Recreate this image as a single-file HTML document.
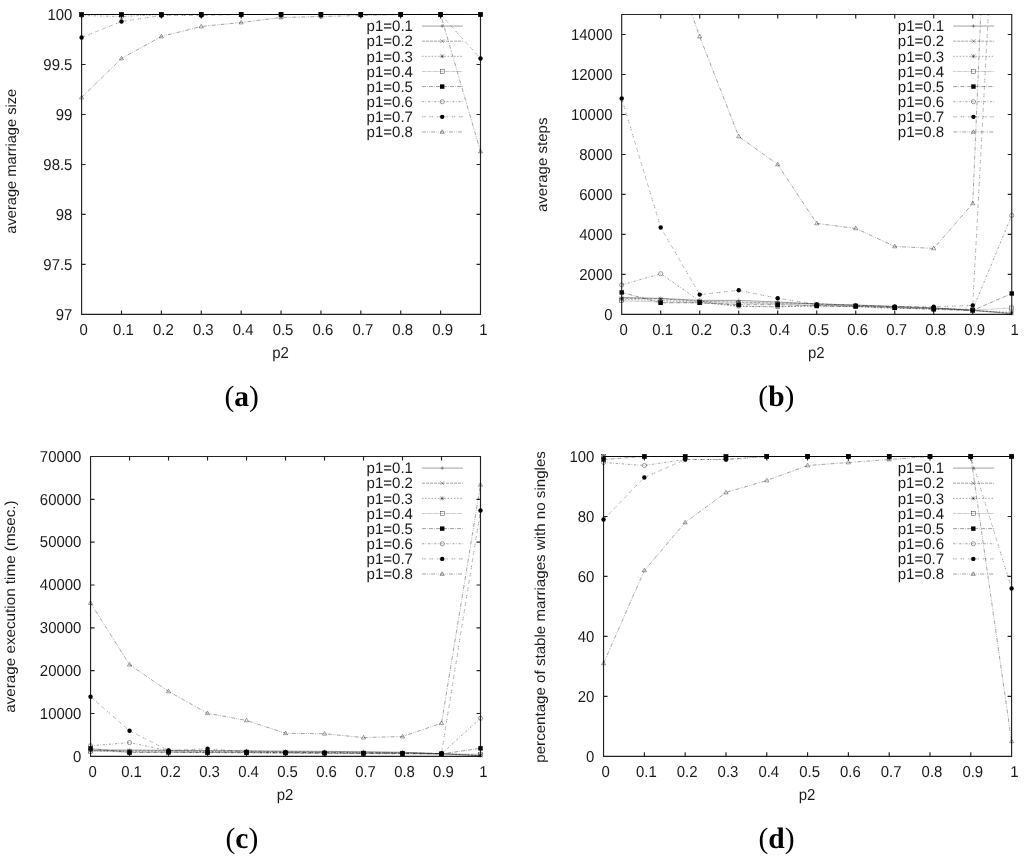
<!DOCTYPE html>
<html lang="en"><head><meta charset="utf-8"><title>Figure</title><style>html,body{margin:0;padding:0;background:#fff}svg{display:block}</style></head><body>
<svg width="1024" height="858" viewBox="0 0 1024 858" font-family="'Liberation Sans', sans-serif" fill="#1a1a1a" text-rendering="geometricPrecision">
<rect width="1024" height="858" fill="#fff"/>
<clipPath id="c1"><rect x="81.6" y="14" width="399.4" height="300.9"/></clipPath>
<path d="M81.6,14.5H480.5V314.4H81.6ZM121.49,314.4v-4M121.49,14.5v4M161.38,314.4v-4M161.38,14.5v4M201.27,314.4v-4M201.27,14.5v4M241.16,314.4v-4M241.16,14.5v4M281.05,314.4v-4M281.05,14.5v4M320.94,314.4v-4M320.94,14.5v4M360.83,314.4v-4M360.83,14.5v4M400.72,314.4v-4M400.72,14.5v4M440.61,314.4v-4M440.61,14.5v4M81.6,264.42h4M480.5,264.42h-4M81.6,214.43h4M480.5,214.43h-4M81.6,164.45h4M480.5,164.45h-4M81.6,114.47h4M480.5,114.47h-4M81.6,64.48h4M480.5,64.48h-4" stroke="#222" stroke-width="1.15" fill="none"/>
<g clip-path="url(#c1)" fill="none">
<polyline points="81.6,14.5 121.49,14.5 161.38,14.5 201.27,14.5 241.16,14.5 281.05,14.5 320.94,14.5 360.83,14.5 400.72,14.5 440.61,14.5 480.5,14.5" stroke="#000" stroke-width="0.38"/>
<polyline points="81.6,14.5 121.49,14.5 161.38,14.5 201.27,14.5 241.16,14.5 281.05,14.5 320.94,14.5 360.83,14.5 400.72,14.5 440.61,14.5 480.5,14.5" stroke="#000" stroke-width="0.36" stroke-dasharray="3,1"/>
<polyline points="81.6,14.5 121.49,14.5 161.38,14.5 201.27,14.5 241.16,14.5 281.05,14.5 320.94,14.5 360.83,14.5 400.72,14.5 440.61,14.5 480.5,14.5" stroke="#000" stroke-width="0.36" stroke-dasharray="1.5,1.7"/>
<polyline points="81.6,14.5 121.49,14.5 161.38,14.5 201.27,14.5 241.16,14.5 281.05,14.5 320.94,14.5 360.83,14.5 400.72,14.5 440.61,14.5 480.5,14.5" stroke="#000" stroke-width="0.36" stroke-dasharray="0.6,0.6"/>
<polyline points="81.6,14.5 121.49,14.5 161.38,14.5 201.27,14.5 241.16,14.5 281.05,14.5 320.94,14.5 360.83,14.5 400.72,14.5 440.61,14.5 480.5,14.5" stroke="#000" stroke-width="0.38" stroke-dasharray="4,1.2,0.6,1.2"/>
<polyline points="81.6,15.5 121.49,16.5 161.38,14.5 201.27,14.5 241.16,14.5 281.05,14.5 320.94,14.5 360.83,14.5 400.72,14.5 440.61,14.5 480.5,14.5" stroke="#000" stroke-width="0.36" stroke-dasharray="2.2,1.4,0.7,1.8"/>
<polyline points="81.6,37.49 121.49,21.5 161.38,15.5 201.27,15.5 241.16,14.5 281.05,14.5 320.94,14.5 360.83,14.5 400.72,14.5 440.61,14.5 480.5,58.49" stroke="#000" stroke-width="0.36" stroke-dasharray="1.5,0.7,1.5,3.7"/>
<polyline points="81.6,97.47 121.49,58.49 161.38,36.49 201.27,26.5 241.16,22.5 281.05,17.5 320.94,16.5 360.83,15.5 400.72,14.5 440.61,14.5 480.5,151.45" stroke="#000" stroke-width="0.36" stroke-dasharray="4,1.3,0.7,1,0.7,1.3"/>
</g>
<path d="M422,26.05H462.9" stroke="#000" stroke-width="0.38" fill="none"/>
<path d="M422,41.18H462.9" stroke="#000" stroke-width="0.36" stroke-dasharray="3,1" fill="none"/>
<path d="M422,56.31H462.9" stroke="#000" stroke-width="0.36" stroke-dasharray="1.5,1.7" fill="none"/>
<path d="M422,71.44H462.9" stroke="#000" stroke-width="0.36" stroke-dasharray="0.6,0.6" fill="none"/>
<path d="M422,86.57H462.9" stroke="#000" stroke-width="0.38" stroke-dasharray="4,1.2,0.6,1.2" fill="none"/>
<path d="M422,101.7H462.9" stroke="#000" stroke-width="0.36" stroke-dasharray="2.2,1.4,0.7,1.8" fill="none"/>
<path d="M422,116.83H462.9" stroke="#000" stroke-width="0.36" stroke-dasharray="1.5,0.7,1.5,3.7" fill="none"/>
<path d="M422,131.96H462.9" stroke="#000" stroke-width="0.36" stroke-dasharray="4,1.3,0.7,1,0.7,1.3" fill="none"/>
<path d="M79.9,14.5H83.3M81.6,12.6V16.4" stroke="#000" stroke-width="0.35" fill="none"/>
<path d="M119.79,14.5H123.19M121.49,12.6V16.4" stroke="#000" stroke-width="0.35" fill="none"/>
<path d="M159.68,14.5H163.08M161.38,12.6V16.4" stroke="#000" stroke-width="0.35" fill="none"/>
<path d="M199.57,14.5H202.97M201.27,12.6V16.4" stroke="#000" stroke-width="0.35" fill="none"/>
<path d="M239.46,14.5H242.86M241.16,12.6V16.4" stroke="#000" stroke-width="0.35" fill="none"/>
<path d="M279.35,14.5H282.75M281.05,12.6V16.4" stroke="#000" stroke-width="0.35" fill="none"/>
<path d="M319.24,14.5H322.64M320.94,12.6V16.4" stroke="#000" stroke-width="0.35" fill="none"/>
<path d="M359.13,14.5H362.53M360.83,12.6V16.4" stroke="#000" stroke-width="0.35" fill="none"/>
<path d="M399.02,14.5H402.42M400.72,12.6V16.4" stroke="#000" stroke-width="0.35" fill="none"/>
<path d="M438.91,14.5H442.31M440.61,12.6V16.4" stroke="#000" stroke-width="0.35" fill="none"/>
<path d="M478.8,14.5H482.2M480.5,12.6V16.4" stroke="#000" stroke-width="0.35" fill="none"/>
<path d="M440.5,26.05H443.9M442.2,24.15V27.95" stroke="#000" stroke-width="0.35" fill="none"/>
<path d="M79.6,12.5L83.6,16.5M79.6,16.5L83.6,12.5" stroke="#000" stroke-width="0.35" fill="none"/>
<path d="M119.49,12.5L123.49,16.5M119.49,16.5L123.49,12.5" stroke="#000" stroke-width="0.35" fill="none"/>
<path d="M159.38,12.5L163.38,16.5M159.38,16.5L163.38,12.5" stroke="#000" stroke-width="0.35" fill="none"/>
<path d="M199.27,12.5L203.27,16.5M199.27,16.5L203.27,12.5" stroke="#000" stroke-width="0.35" fill="none"/>
<path d="M239.16,12.5L243.16,16.5M239.16,16.5L243.16,12.5" stroke="#000" stroke-width="0.35" fill="none"/>
<path d="M279.05,12.5L283.05,16.5M279.05,16.5L283.05,12.5" stroke="#000" stroke-width="0.35" fill="none"/>
<path d="M318.94,12.5L322.94,16.5M318.94,16.5L322.94,12.5" stroke="#000" stroke-width="0.35" fill="none"/>
<path d="M358.83,12.5L362.83,16.5M358.83,16.5L362.83,12.5" stroke="#000" stroke-width="0.35" fill="none"/>
<path d="M398.72,12.5L402.72,16.5M398.72,16.5L402.72,12.5" stroke="#000" stroke-width="0.35" fill="none"/>
<path d="M438.61,12.5L442.61,16.5M438.61,16.5L442.61,12.5" stroke="#000" stroke-width="0.35" fill="none"/>
<path d="M478.5,12.5L482.5,16.5M478.5,16.5L482.5,12.5" stroke="#000" stroke-width="0.35" fill="none"/>
<path d="M440.2,39.18L444.2,43.18M440.2,43.18L444.2,39.18" stroke="#000" stroke-width="0.35" fill="none"/>
<path d="M79.6,12.5L83.6,16.5M79.6,16.5L83.6,12.5M79.6,14.5H83.6M81.6,12.5V16.5" stroke="#000" stroke-width="0.35" fill="none"/>
<path d="M119.49,12.5L123.49,16.5M119.49,16.5L123.49,12.5M119.49,14.5H123.49M121.49,12.5V16.5" stroke="#000" stroke-width="0.35" fill="none"/>
<path d="M159.38,12.5L163.38,16.5M159.38,16.5L163.38,12.5M159.38,14.5H163.38M161.38,12.5V16.5" stroke="#000" stroke-width="0.35" fill="none"/>
<path d="M199.27,12.5L203.27,16.5M199.27,16.5L203.27,12.5M199.27,14.5H203.27M201.27,12.5V16.5" stroke="#000" stroke-width="0.35" fill="none"/>
<path d="M239.16,12.5L243.16,16.5M239.16,16.5L243.16,12.5M239.16,14.5H243.16M241.16,12.5V16.5" stroke="#000" stroke-width="0.35" fill="none"/>
<path d="M279.05,12.5L283.05,16.5M279.05,16.5L283.05,12.5M279.05,14.5H283.05M281.05,12.5V16.5" stroke="#000" stroke-width="0.35" fill="none"/>
<path d="M318.94,12.5L322.94,16.5M318.94,16.5L322.94,12.5M318.94,14.5H322.94M320.94,12.5V16.5" stroke="#000" stroke-width="0.35" fill="none"/>
<path d="M358.83,12.5L362.83,16.5M358.83,16.5L362.83,12.5M358.83,14.5H362.83M360.83,12.5V16.5" stroke="#000" stroke-width="0.35" fill="none"/>
<path d="M398.72,12.5L402.72,16.5M398.72,16.5L402.72,12.5M398.72,14.5H402.72M400.72,12.5V16.5" stroke="#000" stroke-width="0.35" fill="none"/>
<path d="M438.61,12.5L442.61,16.5M438.61,16.5L442.61,12.5M438.61,14.5H442.61M440.61,12.5V16.5" stroke="#000" stroke-width="0.35" fill="none"/>
<path d="M478.5,12.5L482.5,16.5M478.5,16.5L482.5,12.5M478.5,14.5H482.5M480.5,12.5V16.5" stroke="#000" stroke-width="0.35" fill="none"/>
<path d="M440.2,54.31L444.2,58.31M440.2,58.31L444.2,54.31M440.2,56.31H444.2M442.2,54.31V58.31" stroke="#000" stroke-width="0.35" fill="none"/>
<rect x="79.6" y="12.5" width="4" height="4" stroke="#000" stroke-width="0.38" fill="none"/>
<rect x="119.49" y="12.5" width="4" height="4" stroke="#000" stroke-width="0.38" fill="none"/>
<rect x="159.38" y="12.5" width="4" height="4" stroke="#000" stroke-width="0.38" fill="none"/>
<rect x="199.27" y="12.5" width="4" height="4" stroke="#000" stroke-width="0.38" fill="none"/>
<rect x="239.16" y="12.5" width="4" height="4" stroke="#000" stroke-width="0.38" fill="none"/>
<rect x="279.05" y="12.5" width="4" height="4" stroke="#000" stroke-width="0.38" fill="none"/>
<rect x="318.94" y="12.5" width="4" height="4" stroke="#000" stroke-width="0.38" fill="none"/>
<rect x="358.83" y="12.5" width="4" height="4" stroke="#000" stroke-width="0.38" fill="none"/>
<rect x="398.72" y="12.5" width="4" height="4" stroke="#000" stroke-width="0.38" fill="none"/>
<rect x="438.61" y="12.5" width="4" height="4" stroke="#000" stroke-width="0.38" fill="none"/>
<rect x="478.5" y="12.5" width="4" height="4" stroke="#000" stroke-width="0.38" fill="none"/>
<rect x="440.2" y="69.44" width="4" height="4" stroke="#000" stroke-width="0.38" fill="none"/>
<rect x="79.4" y="12.3" width="4.4" height="4.4" fill="#000"/>
<rect x="119.29" y="12.3" width="4.4" height="4.4" fill="#000"/>
<rect x="159.18" y="12.3" width="4.4" height="4.4" fill="#000"/>
<rect x="199.07" y="12.3" width="4.4" height="4.4" fill="#000"/>
<rect x="238.96" y="12.3" width="4.4" height="4.4" fill="#000"/>
<rect x="278.85" y="12.3" width="4.4" height="4.4" fill="#000"/>
<rect x="318.74" y="12.3" width="4.4" height="4.4" fill="#000"/>
<rect x="358.63" y="12.3" width="4.4" height="4.4" fill="#000"/>
<rect x="398.52" y="12.3" width="4.4" height="4.4" fill="#000"/>
<rect x="438.41" y="12.3" width="4.4" height="4.4" fill="#000"/>
<rect x="478.3" y="12.3" width="4.4" height="4.4" fill="#000"/>
<rect x="440" y="84.37" width="4.4" height="4.4" fill="#000"/>
<circle cx="81.6" cy="15.5" r="2.1" stroke="#000" stroke-width="0.38" fill="none"/>
<circle cx="121.49" cy="16.5" r="2.1" stroke="#000" stroke-width="0.38" fill="none"/>
<circle cx="161.38" cy="14.5" r="2.1" stroke="#000" stroke-width="0.38" fill="none"/>
<circle cx="201.27" cy="14.5" r="2.1" stroke="#000" stroke-width="0.38" fill="none"/>
<circle cx="241.16" cy="14.5" r="2.1" stroke="#000" stroke-width="0.38" fill="none"/>
<circle cx="281.05" cy="14.5" r="2.1" stroke="#000" stroke-width="0.38" fill="none"/>
<circle cx="320.94" cy="14.5" r="2.1" stroke="#000" stroke-width="0.38" fill="none"/>
<circle cx="360.83" cy="14.5" r="2.1" stroke="#000" stroke-width="0.38" fill="none"/>
<circle cx="400.72" cy="14.5" r="2.1" stroke="#000" stroke-width="0.38" fill="none"/>
<circle cx="440.61" cy="14.5" r="2.1" stroke="#000" stroke-width="0.38" fill="none"/>
<circle cx="480.5" cy="14.5" r="2.1" stroke="#000" stroke-width="0.38" fill="none"/>
<circle cx="442.2" cy="101.7" r="2.1" stroke="#000" stroke-width="0.38" fill="none"/>
<circle cx="81.6" cy="37.49" r="2.2" fill="#000"/>
<circle cx="121.49" cy="21.5" r="2.2" fill="#000"/>
<circle cx="161.38" cy="15.5" r="2.2" fill="#000"/>
<circle cx="201.27" cy="15.5" r="2.2" fill="#000"/>
<circle cx="241.16" cy="14.5" r="2.2" fill="#000"/>
<circle cx="281.05" cy="14.5" r="2.2" fill="#000"/>
<circle cx="320.94" cy="14.5" r="2.2" fill="#000"/>
<circle cx="360.83" cy="14.5" r="2.2" fill="#000"/>
<circle cx="400.72" cy="14.5" r="2.2" fill="#000"/>
<circle cx="440.61" cy="14.5" r="2.2" fill="#000"/>
<circle cx="480.5" cy="58.49" r="2.2" fill="#000"/>
<circle cx="442.2" cy="116.83" r="2.2" fill="#000"/>
<path d="M81.6,95.27L83.7,98.87H79.5Z" stroke="#000" stroke-width="0.38" fill="none"/>
<path d="M121.49,56.29L123.59,59.89H119.39Z" stroke="#000" stroke-width="0.38" fill="none"/>
<path d="M161.38,34.29L163.48,37.89H159.28Z" stroke="#000" stroke-width="0.38" fill="none"/>
<path d="M201.27,24.3L203.37,27.9H199.17Z" stroke="#000" stroke-width="0.38" fill="none"/>
<path d="M241.16,20.3L243.26,23.9H239.06Z" stroke="#000" stroke-width="0.38" fill="none"/>
<path d="M281.05,15.3L283.15,18.9H278.95Z" stroke="#000" stroke-width="0.38" fill="none"/>
<path d="M320.94,14.3L323.04,17.9H318.84Z" stroke="#000" stroke-width="0.38" fill="none"/>
<path d="M360.83,13.3L362.93,16.9H358.73Z" stroke="#000" stroke-width="0.38" fill="none"/>
<path d="M400.72,12.3L402.82,15.9H398.62Z" stroke="#000" stroke-width="0.38" fill="none"/>
<path d="M440.61,12.3L442.71,15.9H438.51Z" stroke="#000" stroke-width="0.38" fill="none"/>
<path d="M480.5,149.25L482.6,152.85H478.4Z" stroke="#000" stroke-width="0.38" fill="none"/>
<path d="M442.2,129.76L444.3,133.36H440.1Z" stroke="#000" stroke-width="0.38" fill="none"/>
<text transform="translate(72.4,319.6) scale(0.945,1)" text-anchor="end" font-size="15.8">97</text>
<text transform="translate(72.4,269.62) scale(0.945,1)" text-anchor="end" font-size="15.8">97.5</text>
<text transform="translate(72.4,219.63) scale(0.945,1)" text-anchor="end" font-size="15.8">98</text>
<text transform="translate(72.4,169.65) scale(0.945,1)" text-anchor="end" font-size="15.8">98.5</text>
<text transform="translate(72.4,119.67) scale(0.945,1)" text-anchor="end" font-size="15.8">99</text>
<text transform="translate(72.4,69.68) scale(0.945,1)" text-anchor="end" font-size="15.8">99.5</text>
<text transform="translate(72.4,19.7) scale(0.945,1)" text-anchor="end" font-size="15.8">100</text>
<text transform="translate(83.6,334.6) scale(0.945,1)" text-anchor="middle" font-size="15.8">0</text>
<text transform="translate(123.49,334.6) scale(0.945,1)" text-anchor="middle" font-size="15.8">0.1</text>
<text transform="translate(163.38,334.6) scale(0.945,1)" text-anchor="middle" font-size="15.8">0.2</text>
<text transform="translate(203.27,334.6) scale(0.945,1)" text-anchor="middle" font-size="15.8">0.3</text>
<text transform="translate(243.16,334.6) scale(0.945,1)" text-anchor="middle" font-size="15.8">0.4</text>
<text transform="translate(283.05,334.6) scale(0.945,1)" text-anchor="middle" font-size="15.8">0.5</text>
<text transform="translate(322.94,334.6) scale(0.945,1)" text-anchor="middle" font-size="15.8">0.6</text>
<text transform="translate(362.83,334.6) scale(0.945,1)" text-anchor="middle" font-size="15.8">0.7</text>
<text transform="translate(402.72,334.6) scale(0.945,1)" text-anchor="middle" font-size="15.8">0.8</text>
<text transform="translate(442.61,334.6) scale(0.945,1)" text-anchor="middle" font-size="15.8">0.9</text>
<text transform="translate(483.3,334.6) scale(0.945,1)" text-anchor="middle" font-size="15.8">1</text>
<text transform="translate(280.55,358.2) scale(0.945,1)" text-anchor="middle" font-size="15.8">p2</text>
<text transform="translate(16,161.25) rotate(-90) scale(1.01,1)" text-anchor="middle" font-size="14.5">average marriage size</text>
<text transform="translate(413,31.25) scale(0.99,1)" text-anchor="end" font-size="15.2">p1=0.1</text>
<text transform="translate(413,46.38) scale(0.99,1)" text-anchor="end" font-size="15.2">p1=0.2</text>
<text transform="translate(413,61.51) scale(0.99,1)" text-anchor="end" font-size="15.2">p1=0.3</text>
<text transform="translate(413,76.64) scale(0.99,1)" text-anchor="end" font-size="15.2">p1=0.4</text>
<text transform="translate(413,91.77) scale(0.99,1)" text-anchor="end" font-size="15.2">p1=0.5</text>
<text transform="translate(413,106.9) scale(0.99,1)" text-anchor="end" font-size="15.2">p1=0.6</text>
<text transform="translate(413,122.03) scale(0.99,1)" text-anchor="end" font-size="15.2">p1=0.7</text>
<text transform="translate(413,137.16) scale(0.99,1)" text-anchor="end" font-size="15.2">p1=0.8</text>
<text x="241.7" y="405.8" text-anchor="middle" font-family="'Liberation Serif', serif" font-size="29.5" fill="#000">(<tspan font-weight="bold">a</tspan>)</text>
<clipPath id="c2"><rect x="621.7" y="14" width="390.55" height="300.9"/></clipPath>
<path d="M621.7,14.5H1011.75V314.4H621.7ZM660.71,314.4v-4M660.71,14.5v4M699.71,314.4v-4M699.71,14.5v4M738.72,314.4v-4M738.72,14.5v4M777.72,314.4v-4M777.72,14.5v4M816.73,314.4v-4M816.73,14.5v4M855.73,314.4v-4M855.73,14.5v4M894.74,314.4v-4M894.74,14.5v4M933.74,314.4v-4M933.74,14.5v4M972.75,314.4v-4M972.75,14.5v4M621.7,274.41h4M1011.75,274.41h-4M621.7,234.43h4M1011.75,234.43h-4M621.7,194.44h4M1011.75,194.44h-4M621.7,154.45h4M1011.75,154.45h-4M621.7,114.47h4M1011.75,114.47h-4M621.7,74.48h4M1011.75,74.48h-4M621.7,34.49h4M1011.75,34.49h-4" stroke="#222" stroke-width="1.15" fill="none"/>
<g clip-path="url(#c2)" fill="none">
<polyline points="621.7,297.41 660.71,298.41 699.71,300.4 738.72,300.4 777.72,302 816.73,304 855.73,305 894.74,306.4 933.74,307.8 972.75,310.4 1011.75,313.8" stroke="#000" stroke-width="0.38"/>
<polyline points="621.7,298.41 660.71,298.81 699.71,301.4 738.72,302 777.72,303.2 816.73,303.6 855.73,305.4 894.74,306.8 933.74,308.4 972.75,310.2 1011.75,313.2" stroke="#000" stroke-width="0.36" stroke-dasharray="3,1"/>
<polyline points="621.7,299.4 660.71,300.4 699.71,302.4 738.72,306.4 777.72,306.8 816.73,306 855.73,306.8 894.74,308.4 933.74,308.8 972.75,310.6 1011.75,312.4" stroke="#000" stroke-width="0.36" stroke-dasharray="1.5,1.7"/>
<polyline points="621.7,300.8 660.71,302 699.71,302.8 738.72,303.2 777.72,304 816.73,305 855.73,306 894.74,307.4 933.74,308.4 972.75,310 1011.75,308" stroke="#000" stroke-width="0.36" stroke-dasharray="0.6,0.6"/>
<polyline points="621.7,292.41 660.71,302.8 699.71,302.8 738.72,304.7 777.72,304.7 816.73,306 855.73,306.4 894.74,307.8 933.74,309.4 972.75,310.4 1011.75,293.51" stroke="#000" stroke-width="0.38" stroke-dasharray="4,1.2,0.6,1.2"/>
<polyline points="621.7,284.91 660.71,273.71 699.71,301 738.72,306 777.72,306.9 816.73,305.4 855.73,306.4 894.74,307.4 933.74,308.4 972.75,309.4 1011.75,215.43" stroke="#000" stroke-width="0.36" stroke-dasharray="2.2,1.4,0.7,1.8"/>
<polyline points="621.7,98.47 660.71,227.43 699.71,294.61 738.72,290.31 777.72,298.27 816.73,304.4 855.73,305.4 894.74,306.4 933.74,306.8 972.75,305.4 1011.75,-425.35" stroke="#000" stroke-width="0.36" stroke-dasharray="1.5,0.7,1.5,3.7"/>
<polyline points="621.7,-285.4 660.71,-73.47 699.71,36.49 738.72,136.46 777.72,164.45 816.73,223.43 855.73,228.43 894.74,246.42 933.74,248.42 972.75,203.44 1011.75,-717.26" stroke="#000" stroke-width="0.36" stroke-dasharray="4,1.3,0.7,1,0.7,1.3"/>
</g>
<path d="M953.25,26.05H994.15" stroke="#000" stroke-width="0.38" fill="none"/>
<path d="M953.25,41.18H994.15" stroke="#000" stroke-width="0.36" stroke-dasharray="3,1" fill="none"/>
<path d="M953.25,56.31H994.15" stroke="#000" stroke-width="0.36" stroke-dasharray="1.5,1.7" fill="none"/>
<path d="M953.25,71.44H994.15" stroke="#000" stroke-width="0.36" stroke-dasharray="0.6,0.6" fill="none"/>
<path d="M953.25,86.57H994.15" stroke="#000" stroke-width="0.38" stroke-dasharray="4,1.2,0.6,1.2" fill="none"/>
<path d="M953.25,101.7H994.15" stroke="#000" stroke-width="0.36" stroke-dasharray="2.2,1.4,0.7,1.8" fill="none"/>
<path d="M953.25,116.83H994.15" stroke="#000" stroke-width="0.36" stroke-dasharray="1.5,0.7,1.5,3.7" fill="none"/>
<path d="M953.25,131.96H994.15" stroke="#000" stroke-width="0.36" stroke-dasharray="4,1.3,0.7,1,0.7,1.3" fill="none"/>
<path d="M620,297.41H623.4M621.7,295.51V299.31" stroke="#000" stroke-width="0.35" fill="none"/>
<path d="M659,298.41H662.41M660.71,296.51V300.31" stroke="#000" stroke-width="0.35" fill="none"/>
<path d="M698.01,300.4H701.41M699.71,298.5V302.3" stroke="#000" stroke-width="0.35" fill="none"/>
<path d="M737.01,300.4H740.42M738.72,298.5V302.3" stroke="#000" stroke-width="0.35" fill="none"/>
<path d="M776.02,302H779.42M777.72,300.1V303.9" stroke="#000" stroke-width="0.35" fill="none"/>
<path d="M815.02,304H818.43M816.73,302.1V305.9" stroke="#000" stroke-width="0.35" fill="none"/>
<path d="M854.03,305H857.43M855.73,303.1V306.9" stroke="#000" stroke-width="0.35" fill="none"/>
<path d="M893.03,306.4H896.44M894.74,304.5V308.3" stroke="#000" stroke-width="0.35" fill="none"/>
<path d="M932.04,307.8H935.44M933.74,305.9V309.7" stroke="#000" stroke-width="0.35" fill="none"/>
<path d="M971.04,310.4H974.45M972.75,308.5V312.3" stroke="#000" stroke-width="0.35" fill="none"/>
<path d="M1010.05,313.8H1013.45M1011.75,311.9V315.7" stroke="#000" stroke-width="0.35" fill="none"/>
<path d="M971.75,26.05H975.15M973.45,24.15V27.95" stroke="#000" stroke-width="0.35" fill="none"/>
<path d="M619.7,296.41L623.7,300.41M619.7,300.41L623.7,296.41" stroke="#000" stroke-width="0.35" fill="none"/>
<path d="M658.71,296.81L662.71,300.81M658.71,300.81L662.71,296.81" stroke="#000" stroke-width="0.35" fill="none"/>
<path d="M697.71,299.4L701.71,303.4M697.71,303.4L701.71,299.4" stroke="#000" stroke-width="0.35" fill="none"/>
<path d="M736.72,300L740.72,304M736.72,304L740.72,300" stroke="#000" stroke-width="0.35" fill="none"/>
<path d="M775.72,301.2L779.72,305.2M775.72,305.2L779.72,301.2" stroke="#000" stroke-width="0.35" fill="none"/>
<path d="M814.73,301.6L818.73,305.6M814.73,305.6L818.73,301.6" stroke="#000" stroke-width="0.35" fill="none"/>
<path d="M853.73,303.4L857.73,307.4M853.73,307.4L857.73,303.4" stroke="#000" stroke-width="0.35" fill="none"/>
<path d="M892.74,304.8L896.74,308.8M892.74,308.8L896.74,304.8" stroke="#000" stroke-width="0.35" fill="none"/>
<path d="M931.74,306.4L935.74,310.4M931.74,310.4L935.74,306.4" stroke="#000" stroke-width="0.35" fill="none"/>
<path d="M970.75,308.2L974.75,312.2M970.75,312.2L974.75,308.2" stroke="#000" stroke-width="0.35" fill="none"/>
<path d="M1009.75,311.2L1013.75,315.2M1009.75,315.2L1013.75,311.2" stroke="#000" stroke-width="0.35" fill="none"/>
<path d="M971.45,39.18L975.45,43.18M971.45,43.18L975.45,39.18" stroke="#000" stroke-width="0.35" fill="none"/>
<path d="M619.7,297.4L623.7,301.4M619.7,301.4L623.7,297.4M619.7,299.4H623.7M621.7,297.4V301.4" stroke="#000" stroke-width="0.35" fill="none"/>
<path d="M658.71,298.4L662.71,302.4M658.71,302.4L662.71,298.4M658.71,300.4H662.71M660.71,298.4V302.4" stroke="#000" stroke-width="0.35" fill="none"/>
<path d="M697.71,300.4L701.71,304.4M697.71,304.4L701.71,300.4M697.71,302.4H701.71M699.71,300.4V304.4" stroke="#000" stroke-width="0.35" fill="none"/>
<path d="M736.72,304.4L740.72,308.4M736.72,308.4L740.72,304.4M736.72,306.4H740.72M738.72,304.4V308.4" stroke="#000" stroke-width="0.35" fill="none"/>
<path d="M775.72,304.8L779.72,308.8M775.72,308.8L779.72,304.8M775.72,306.8H779.72M777.72,304.8V308.8" stroke="#000" stroke-width="0.35" fill="none"/>
<path d="M814.73,304L818.73,308M814.73,308L818.73,304M814.73,306H818.73M816.73,304V308" stroke="#000" stroke-width="0.35" fill="none"/>
<path d="M853.73,304.8L857.73,308.8M853.73,308.8L857.73,304.8M853.73,306.8H857.73M855.73,304.8V308.8" stroke="#000" stroke-width="0.35" fill="none"/>
<path d="M892.74,306.4L896.74,310.4M892.74,310.4L896.74,306.4M892.74,308.4H896.74M894.74,306.4V310.4" stroke="#000" stroke-width="0.35" fill="none"/>
<path d="M931.74,306.8L935.74,310.8M931.74,310.8L935.74,306.8M931.74,308.8H935.74M933.74,306.8V310.8" stroke="#000" stroke-width="0.35" fill="none"/>
<path d="M970.75,308.6L974.75,312.6M970.75,312.6L974.75,308.6M970.75,310.6H974.75M972.75,308.6V312.6" stroke="#000" stroke-width="0.35" fill="none"/>
<path d="M1009.75,310.4L1013.75,314.4M1009.75,314.4L1013.75,310.4M1009.75,312.4H1013.75M1011.75,310.4V314.4" stroke="#000" stroke-width="0.35" fill="none"/>
<path d="M971.45,54.31L975.45,58.31M971.45,58.31L975.45,54.31M971.45,56.31H975.45M973.45,54.31V58.31" stroke="#000" stroke-width="0.35" fill="none"/>
<rect x="619.7" y="298.8" width="4" height="4" stroke="#000" stroke-width="0.38" fill="none"/>
<rect x="658.71" y="300" width="4" height="4" stroke="#000" stroke-width="0.38" fill="none"/>
<rect x="697.71" y="300.8" width="4" height="4" stroke="#000" stroke-width="0.38" fill="none"/>
<rect x="736.72" y="301.2" width="4" height="4" stroke="#000" stroke-width="0.38" fill="none"/>
<rect x="775.72" y="302" width="4" height="4" stroke="#000" stroke-width="0.38" fill="none"/>
<rect x="814.73" y="303" width="4" height="4" stroke="#000" stroke-width="0.38" fill="none"/>
<rect x="853.73" y="304" width="4" height="4" stroke="#000" stroke-width="0.38" fill="none"/>
<rect x="892.74" y="305.4" width="4" height="4" stroke="#000" stroke-width="0.38" fill="none"/>
<rect x="931.74" y="306.4" width="4" height="4" stroke="#000" stroke-width="0.38" fill="none"/>
<rect x="970.75" y="308" width="4" height="4" stroke="#000" stroke-width="0.38" fill="none"/>
<rect x="1009.75" y="306" width="4" height="4" stroke="#000" stroke-width="0.38" fill="none"/>
<rect x="971.45" y="69.44" width="4" height="4" stroke="#000" stroke-width="0.38" fill="none"/>
<rect x="619.5" y="290.21" width="4.4" height="4.4" fill="#000"/>
<rect x="658.5" y="300.6" width="4.4" height="4.4" fill="#000"/>
<rect x="697.51" y="300.6" width="4.4" height="4.4" fill="#000"/>
<rect x="736.51" y="302.5" width="4.4" height="4.4" fill="#000"/>
<rect x="775.52" y="302.5" width="4.4" height="4.4" fill="#000"/>
<rect x="814.52" y="303.8" width="4.4" height="4.4" fill="#000"/>
<rect x="853.53" y="304.2" width="4.4" height="4.4" fill="#000"/>
<rect x="892.53" y="305.6" width="4.4" height="4.4" fill="#000"/>
<rect x="931.54" y="307.2" width="4.4" height="4.4" fill="#000"/>
<rect x="970.54" y="308.2" width="4.4" height="4.4" fill="#000"/>
<rect x="1009.55" y="291.31" width="4.4" height="4.4" fill="#000"/>
<rect x="971.25" y="84.37" width="4.4" height="4.4" fill="#000"/>
<circle cx="621.7" cy="284.91" r="2.1" stroke="#000" stroke-width="0.38" fill="none"/>
<circle cx="660.71" cy="273.71" r="2.1" stroke="#000" stroke-width="0.38" fill="none"/>
<circle cx="699.71" cy="301" r="2.1" stroke="#000" stroke-width="0.38" fill="none"/>
<circle cx="738.72" cy="306" r="2.1" stroke="#000" stroke-width="0.38" fill="none"/>
<circle cx="777.72" cy="306.9" r="2.1" stroke="#000" stroke-width="0.38" fill="none"/>
<circle cx="816.73" cy="305.4" r="2.1" stroke="#000" stroke-width="0.38" fill="none"/>
<circle cx="855.73" cy="306.4" r="2.1" stroke="#000" stroke-width="0.38" fill="none"/>
<circle cx="894.74" cy="307.4" r="2.1" stroke="#000" stroke-width="0.38" fill="none"/>
<circle cx="933.74" cy="308.4" r="2.1" stroke="#000" stroke-width="0.38" fill="none"/>
<circle cx="972.75" cy="309.4" r="2.1" stroke="#000" stroke-width="0.38" fill="none"/>
<circle cx="1011.75" cy="215.43" r="2.1" stroke="#000" stroke-width="0.38" fill="none"/>
<circle cx="973.45" cy="101.7" r="2.1" stroke="#000" stroke-width="0.38" fill="none"/>
<circle cx="621.7" cy="98.47" r="2.2" fill="#000"/>
<circle cx="660.71" cy="227.43" r="2.2" fill="#000"/>
<circle cx="699.71" cy="294.61" r="2.2" fill="#000"/>
<circle cx="738.72" cy="290.31" r="2.2" fill="#000"/>
<circle cx="777.72" cy="298.27" r="2.2" fill="#000"/>
<circle cx="816.73" cy="304.4" r="2.2" fill="#000"/>
<circle cx="855.73" cy="305.4" r="2.2" fill="#000"/>
<circle cx="894.74" cy="306.4" r="2.2" fill="#000"/>
<circle cx="933.74" cy="306.8" r="2.2" fill="#000"/>
<circle cx="972.75" cy="305.4" r="2.2" fill="#000"/>
<circle cx="973.45" cy="116.83" r="2.2" fill="#000"/>
<path d="M699.71,34.29L701.81,37.89H697.61Z" stroke="#000" stroke-width="0.38" fill="none"/>
<path d="M738.72,134.26L740.82,137.86H736.62Z" stroke="#000" stroke-width="0.38" fill="none"/>
<path d="M777.72,162.25L779.82,165.85H775.62Z" stroke="#000" stroke-width="0.38" fill="none"/>
<path d="M816.73,221.23L818.83,224.83H814.62Z" stroke="#000" stroke-width="0.38" fill="none"/>
<path d="M855.73,226.23L857.83,229.83H853.63Z" stroke="#000" stroke-width="0.38" fill="none"/>
<path d="M894.74,244.22L896.84,247.82H892.63Z" stroke="#000" stroke-width="0.38" fill="none"/>
<path d="M933.74,246.22L935.84,249.82H931.64Z" stroke="#000" stroke-width="0.38" fill="none"/>
<path d="M972.75,201.24L974.85,204.84H970.64Z" stroke="#000" stroke-width="0.38" fill="none"/>
<path d="M973.45,129.76L975.55,133.36H971.35Z" stroke="#000" stroke-width="0.38" fill="none"/>
<text transform="translate(612.5,319.6) scale(0.945,1)" text-anchor="end" font-size="15.8">0</text>
<text transform="translate(612.5,279.61) scale(0.945,1)" text-anchor="end" font-size="15.8">2000</text>
<text transform="translate(612.5,239.63) scale(0.945,1)" text-anchor="end" font-size="15.8">4000</text>
<text transform="translate(612.5,199.64) scale(0.945,1)" text-anchor="end" font-size="15.8">6000</text>
<text transform="translate(612.5,159.65) scale(0.945,1)" text-anchor="end" font-size="15.8">8000</text>
<text transform="translate(612.5,119.67) scale(0.945,1)" text-anchor="end" font-size="15.8">10000</text>
<text transform="translate(612.5,79.68) scale(0.945,1)" text-anchor="end" font-size="15.8">12000</text>
<text transform="translate(612.5,39.69) scale(0.945,1)" text-anchor="end" font-size="15.8">14000</text>
<text transform="translate(623.7,334.6) scale(0.945,1)" text-anchor="middle" font-size="15.8">0</text>
<text transform="translate(662.71,334.6) scale(0.945,1)" text-anchor="middle" font-size="15.8">0.1</text>
<text transform="translate(701.71,334.6) scale(0.945,1)" text-anchor="middle" font-size="15.8">0.2</text>
<text transform="translate(740.72,334.6) scale(0.945,1)" text-anchor="middle" font-size="15.8">0.3</text>
<text transform="translate(779.72,334.6) scale(0.945,1)" text-anchor="middle" font-size="15.8">0.4</text>
<text transform="translate(818.73,334.6) scale(0.945,1)" text-anchor="middle" font-size="15.8">0.5</text>
<text transform="translate(857.73,334.6) scale(0.945,1)" text-anchor="middle" font-size="15.8">0.6</text>
<text transform="translate(896.74,334.6) scale(0.945,1)" text-anchor="middle" font-size="15.8">0.7</text>
<text transform="translate(935.74,334.6) scale(0.945,1)" text-anchor="middle" font-size="15.8">0.8</text>
<text transform="translate(974.75,334.6) scale(0.945,1)" text-anchor="middle" font-size="15.8">0.9</text>
<text transform="translate(1014.55,334.6) scale(0.945,1)" text-anchor="middle" font-size="15.8">1</text>
<text transform="translate(816.23,358.2) scale(0.945,1)" text-anchor="middle" font-size="15.8">p2</text>
<text transform="translate(546.7,164.8) rotate(-90) scale(1.038,1)" text-anchor="middle" font-size="14.5">average steps</text>
<text transform="translate(944.25,31.25) scale(0.99,1)" text-anchor="end" font-size="15.2">p1=0.1</text>
<text transform="translate(944.25,46.38) scale(0.99,1)" text-anchor="end" font-size="15.2">p1=0.2</text>
<text transform="translate(944.25,61.51) scale(0.99,1)" text-anchor="end" font-size="15.2">p1=0.3</text>
<text transform="translate(944.25,76.64) scale(0.99,1)" text-anchor="end" font-size="15.2">p1=0.4</text>
<text transform="translate(944.25,91.77) scale(0.99,1)" text-anchor="end" font-size="15.2">p1=0.5</text>
<text transform="translate(944.25,106.9) scale(0.99,1)" text-anchor="end" font-size="15.2">p1=0.6</text>
<text transform="translate(944.25,122.03) scale(0.99,1)" text-anchor="end" font-size="15.2">p1=0.7</text>
<text transform="translate(944.25,137.16) scale(0.99,1)" text-anchor="end" font-size="15.2">p1=0.8</text>
<text x="776.4" y="405.8" text-anchor="middle" font-family="'Liberation Serif', serif" font-size="29.5" fill="#000">(<tspan font-weight="bold">b</tspan>)</text>
<clipPath id="c3"><rect x="90.55" y="456" width="390.45" height="300.8"/></clipPath>
<path d="M90.55,456.5H480.5V756.3H90.55ZM129.55,756.3v-4M129.55,456.5v4M168.54,756.3v-4M168.54,456.5v4M207.53,756.3v-4M207.53,456.5v4M246.53,756.3v-4M246.53,456.5v4M285.52,756.3v-4M285.52,456.5v4M324.52,756.3v-4M324.52,456.5v4M363.51,756.3v-4M363.51,456.5v4M402.51,756.3v-4M402.51,456.5v4M441.5,756.3v-4M441.5,456.5v4M90.55,713.47h4M480.5,713.47h-4M90.55,670.64h4M480.5,670.64h-4M90.55,627.81h4M480.5,627.81h-4M90.55,584.99h4M480.5,584.99h-4M90.55,542.16h4M480.5,542.16h-4M90.55,499.33h4M480.5,499.33h-4" stroke="#222" stroke-width="1.15" fill="none"/>
<g clip-path="url(#c3)" fill="none">
<polyline points="90.55,749.88 129.55,750.09 168.54,750.3 207.53,750.52 246.53,750.73 285.52,751.16 324.52,751.37 363.51,751.8 402.51,752.23 441.5,753.73 480.5,755.87" stroke="#000" stroke-width="0.38"/>
<polyline points="90.55,750.3 129.55,750.73 168.54,750.95 207.53,751.16 246.53,751.37 285.52,751.59 324.52,752.02 363.51,752.23 402.51,752.66 441.5,753.73 480.5,755.44" stroke="#000" stroke-width="0.36" stroke-dasharray="3,1"/>
<polyline points="90.55,750.73 129.55,751.59 168.54,752.02 207.53,752.23 246.53,752.45 285.52,752.66 324.52,752.87 363.51,753.09 402.51,753.3 441.5,753.94 480.5,755.02" stroke="#000" stroke-width="0.36" stroke-dasharray="1.5,1.7"/>
<polyline points="90.55,751.16 129.55,752.02 168.54,752.23 207.53,752.45 246.53,752.66 285.52,752.87 324.52,753.09 363.51,753.3 402.51,753.52 441.5,753.94 480.5,754.16" stroke="#000" stroke-width="0.36" stroke-dasharray="0.6,0.6"/>
<polyline points="90.55,748.38 129.55,752.66 168.54,752.23 207.53,752.66 246.53,752.87 285.52,753.09 324.52,753.3 363.51,753.52 402.51,753.73 441.5,753.94 480.5,748.33" stroke="#000" stroke-width="0.38" stroke-dasharray="4,1.2,0.6,1.2"/>
<polyline points="90.55,745.76 129.55,742.59 168.54,750.73 207.53,751.59 246.53,752.02 285.52,752.45 324.52,752.66 363.51,752.87 402.51,753.09 441.5,753.73 480.5,718.27" stroke="#000" stroke-width="0.36" stroke-dasharray="2.2,1.4,0.7,1.8"/>
<polyline points="90.55,696.77 129.55,730.73 168.54,750.52 207.53,748.8 246.53,751.59 285.52,752.45 324.52,752.66 363.51,752.87 402.51,753.09 441.5,753.3 480.5,510.46" stroke="#000" stroke-width="0.36" stroke-dasharray="1.5,0.7,1.5,3.7"/>
<polyline points="90.55,602.97 129.55,664.65 168.54,691.41 207.53,713.34 246.53,720.41 285.52,733.3 324.52,733.73 363.51,737.58 402.51,736.51 441.5,723.19 480.5,484.77" stroke="#000" stroke-width="0.36" stroke-dasharray="4,1.3,0.7,1,0.7,1.3"/>
</g>
<path d="M422,468.1H462.9" stroke="#000" stroke-width="0.38" fill="none"/>
<path d="M422,483.23H462.9" stroke="#000" stroke-width="0.36" stroke-dasharray="3,1" fill="none"/>
<path d="M422,498.36H462.9" stroke="#000" stroke-width="0.36" stroke-dasharray="1.5,1.7" fill="none"/>
<path d="M422,513.49H462.9" stroke="#000" stroke-width="0.36" stroke-dasharray="0.6,0.6" fill="none"/>
<path d="M422,528.62H462.9" stroke="#000" stroke-width="0.38" stroke-dasharray="4,1.2,0.6,1.2" fill="none"/>
<path d="M422,543.75H462.9" stroke="#000" stroke-width="0.36" stroke-dasharray="2.2,1.4,0.7,1.8" fill="none"/>
<path d="M422,558.88H462.9" stroke="#000" stroke-width="0.36" stroke-dasharray="1.5,0.7,1.5,3.7" fill="none"/>
<path d="M422,574.01H462.9" stroke="#000" stroke-width="0.36" stroke-dasharray="4,1.3,0.7,1,0.7,1.3" fill="none"/>
<path d="M88.85,749.88H92.25M90.55,747.98V751.78" stroke="#000" stroke-width="0.35" fill="none"/>
<path d="M127.85,750.09H131.25M129.55,748.19V751.99" stroke="#000" stroke-width="0.35" fill="none"/>
<path d="M166.84,750.3H170.24M168.54,748.4V752.2" stroke="#000" stroke-width="0.35" fill="none"/>
<path d="M205.83,750.52H209.23M207.53,748.62V752.42" stroke="#000" stroke-width="0.35" fill="none"/>
<path d="M244.83,750.73H248.23M246.53,748.83V752.63" stroke="#000" stroke-width="0.35" fill="none"/>
<path d="M283.82,751.16H287.22M285.52,749.26V753.06" stroke="#000" stroke-width="0.35" fill="none"/>
<path d="M322.82,751.37H326.22M324.52,749.47V753.27" stroke="#000" stroke-width="0.35" fill="none"/>
<path d="M361.81,751.8H365.21M363.51,749.9V753.7" stroke="#000" stroke-width="0.35" fill="none"/>
<path d="M400.81,752.23H404.21M402.51,750.33V754.13" stroke="#000" stroke-width="0.35" fill="none"/>
<path d="M439.81,753.73H443.2M441.5,751.83V755.63" stroke="#000" stroke-width="0.35" fill="none"/>
<path d="M478.8,755.87H482.2M480.5,753.97V757.77" stroke="#000" stroke-width="0.35" fill="none"/>
<path d="M440.5,468.1H443.9M442.2,466.2V470" stroke="#000" stroke-width="0.35" fill="none"/>
<path d="M88.55,748.3L92.55,752.3M88.55,752.3L92.55,748.3" stroke="#000" stroke-width="0.35" fill="none"/>
<path d="M127.55,748.73L131.55,752.73M127.55,752.73L131.55,748.73" stroke="#000" stroke-width="0.35" fill="none"/>
<path d="M166.54,748.95L170.54,752.95M166.54,752.95L170.54,748.95" stroke="#000" stroke-width="0.35" fill="none"/>
<path d="M205.53,749.16L209.53,753.16M205.53,753.16L209.53,749.16" stroke="#000" stroke-width="0.35" fill="none"/>
<path d="M244.53,749.37L248.53,753.37M244.53,753.37L248.53,749.37" stroke="#000" stroke-width="0.35" fill="none"/>
<path d="M283.52,749.59L287.52,753.59M283.52,753.59L287.52,749.59" stroke="#000" stroke-width="0.35" fill="none"/>
<path d="M322.52,750.02L326.52,754.02M322.52,754.02L326.52,750.02" stroke="#000" stroke-width="0.35" fill="none"/>
<path d="M361.51,750.23L365.51,754.23M361.51,754.23L365.51,750.23" stroke="#000" stroke-width="0.35" fill="none"/>
<path d="M400.51,750.66L404.51,754.66M400.51,754.66L404.51,750.66" stroke="#000" stroke-width="0.35" fill="none"/>
<path d="M439.5,751.73L443.5,755.73M439.5,755.73L443.5,751.73" stroke="#000" stroke-width="0.35" fill="none"/>
<path d="M478.5,753.44L482.5,757.44M478.5,757.44L482.5,753.44" stroke="#000" stroke-width="0.35" fill="none"/>
<path d="M440.2,481.23L444.2,485.23M440.2,485.23L444.2,481.23" stroke="#000" stroke-width="0.35" fill="none"/>
<path d="M88.55,748.73L92.55,752.73M88.55,752.73L92.55,748.73M88.55,750.73H92.55M90.55,748.73V752.73" stroke="#000" stroke-width="0.35" fill="none"/>
<path d="M127.55,749.59L131.55,753.59M127.55,753.59L131.55,749.59M127.55,751.59H131.55M129.55,749.59V753.59" stroke="#000" stroke-width="0.35" fill="none"/>
<path d="M166.54,750.02L170.54,754.02M166.54,754.02L170.54,750.02M166.54,752.02H170.54M168.54,750.02V754.02" stroke="#000" stroke-width="0.35" fill="none"/>
<path d="M205.53,750.23L209.53,754.23M205.53,754.23L209.53,750.23M205.53,752.23H209.53M207.53,750.23V754.23" stroke="#000" stroke-width="0.35" fill="none"/>
<path d="M244.53,750.45L248.53,754.45M244.53,754.45L248.53,750.45M244.53,752.45H248.53M246.53,750.45V754.45" stroke="#000" stroke-width="0.35" fill="none"/>
<path d="M283.52,750.66L287.52,754.66M283.52,754.66L287.52,750.66M283.52,752.66H287.52M285.52,750.66V754.66" stroke="#000" stroke-width="0.35" fill="none"/>
<path d="M322.52,750.87L326.52,754.87M322.52,754.87L326.52,750.87M322.52,752.87H326.52M324.52,750.87V754.87" stroke="#000" stroke-width="0.35" fill="none"/>
<path d="M361.51,751.09L365.51,755.09M361.51,755.09L365.51,751.09M361.51,753.09H365.51M363.51,751.09V755.09" stroke="#000" stroke-width="0.35" fill="none"/>
<path d="M400.51,751.3L404.51,755.3M400.51,755.3L404.51,751.3M400.51,753.3H404.51M402.51,751.3V755.3" stroke="#000" stroke-width="0.35" fill="none"/>
<path d="M439.5,751.94L443.5,755.94M439.5,755.94L443.5,751.94M439.5,753.94H443.5M441.5,751.94V755.94" stroke="#000" stroke-width="0.35" fill="none"/>
<path d="M478.5,753.02L482.5,757.02M478.5,757.02L482.5,753.02M478.5,755.02H482.5M480.5,753.02V757.02" stroke="#000" stroke-width="0.35" fill="none"/>
<path d="M440.2,496.36L444.2,500.36M440.2,500.36L444.2,496.36M440.2,498.36H444.2M442.2,496.36V500.36" stroke="#000" stroke-width="0.35" fill="none"/>
<rect x="88.55" y="749.16" width="4" height="4" stroke="#000" stroke-width="0.38" fill="none"/>
<rect x="127.55" y="750.02" width="4" height="4" stroke="#000" stroke-width="0.38" fill="none"/>
<rect x="166.54" y="750.23" width="4" height="4" stroke="#000" stroke-width="0.38" fill="none"/>
<rect x="205.53" y="750.45" width="4" height="4" stroke="#000" stroke-width="0.38" fill="none"/>
<rect x="244.53" y="750.66" width="4" height="4" stroke="#000" stroke-width="0.38" fill="none"/>
<rect x="283.52" y="750.87" width="4" height="4" stroke="#000" stroke-width="0.38" fill="none"/>
<rect x="322.52" y="751.09" width="4" height="4" stroke="#000" stroke-width="0.38" fill="none"/>
<rect x="361.51" y="751.3" width="4" height="4" stroke="#000" stroke-width="0.38" fill="none"/>
<rect x="400.51" y="751.52" width="4" height="4" stroke="#000" stroke-width="0.38" fill="none"/>
<rect x="439.5" y="751.94" width="4" height="4" stroke="#000" stroke-width="0.38" fill="none"/>
<rect x="478.5" y="752.16" width="4" height="4" stroke="#000" stroke-width="0.38" fill="none"/>
<rect x="440.2" y="511.49" width="4" height="4" stroke="#000" stroke-width="0.38" fill="none"/>
<rect x="88.35" y="746.18" width="4.4" height="4.4" fill="#000"/>
<rect x="127.35" y="750.46" width="4.4" height="4.4" fill="#000"/>
<rect x="166.34" y="750.03" width="4.4" height="4.4" fill="#000"/>
<rect x="205.33" y="750.46" width="4.4" height="4.4" fill="#000"/>
<rect x="244.33" y="750.67" width="4.4" height="4.4" fill="#000"/>
<rect x="283.32" y="750.89" width="4.4" height="4.4" fill="#000"/>
<rect x="322.32" y="751.1" width="4.4" height="4.4" fill="#000"/>
<rect x="361.31" y="751.32" width="4.4" height="4.4" fill="#000"/>
<rect x="400.31" y="751.53" width="4.4" height="4.4" fill="#000"/>
<rect x="439.31" y="751.74" width="4.4" height="4.4" fill="#000"/>
<rect x="478.3" y="746.13" width="4.4" height="4.4" fill="#000"/>
<rect x="440" y="526.42" width="4.4" height="4.4" fill="#000"/>
<circle cx="90.55" cy="745.76" r="2.1" stroke="#000" stroke-width="0.38" fill="none"/>
<circle cx="129.55" cy="742.59" r="2.1" stroke="#000" stroke-width="0.38" fill="none"/>
<circle cx="168.54" cy="750.73" r="2.1" stroke="#000" stroke-width="0.38" fill="none"/>
<circle cx="207.53" cy="751.59" r="2.1" stroke="#000" stroke-width="0.38" fill="none"/>
<circle cx="246.53" cy="752.02" r="2.1" stroke="#000" stroke-width="0.38" fill="none"/>
<circle cx="285.52" cy="752.45" r="2.1" stroke="#000" stroke-width="0.38" fill="none"/>
<circle cx="324.52" cy="752.66" r="2.1" stroke="#000" stroke-width="0.38" fill="none"/>
<circle cx="363.51" cy="752.87" r="2.1" stroke="#000" stroke-width="0.38" fill="none"/>
<circle cx="402.51" cy="753.09" r="2.1" stroke="#000" stroke-width="0.38" fill="none"/>
<circle cx="441.5" cy="753.73" r="2.1" stroke="#000" stroke-width="0.38" fill="none"/>
<circle cx="480.5" cy="718.27" r="2.1" stroke="#000" stroke-width="0.38" fill="none"/>
<circle cx="442.2" cy="543.75" r="2.1" stroke="#000" stroke-width="0.38" fill="none"/>
<circle cx="90.55" cy="696.77" r="2.2" fill="#000"/>
<circle cx="129.55" cy="730.73" r="2.2" fill="#000"/>
<circle cx="168.54" cy="750.52" r="2.2" fill="#000"/>
<circle cx="207.53" cy="748.8" r="2.2" fill="#000"/>
<circle cx="246.53" cy="751.59" r="2.2" fill="#000"/>
<circle cx="285.52" cy="752.45" r="2.2" fill="#000"/>
<circle cx="324.52" cy="752.66" r="2.2" fill="#000"/>
<circle cx="363.51" cy="752.87" r="2.2" fill="#000"/>
<circle cx="402.51" cy="753.09" r="2.2" fill="#000"/>
<circle cx="441.5" cy="753.3" r="2.2" fill="#000"/>
<circle cx="480.5" cy="510.46" r="2.2" fill="#000"/>
<circle cx="442.2" cy="558.88" r="2.2" fill="#000"/>
<path d="M90.55,600.77L92.65,604.37H88.45Z" stroke="#000" stroke-width="0.38" fill="none"/>
<path d="M129.55,662.45L131.65,666.05H127.45Z" stroke="#000" stroke-width="0.38" fill="none"/>
<path d="M168.54,689.21L170.64,692.81H166.44Z" stroke="#000" stroke-width="0.38" fill="none"/>
<path d="M207.53,711.14L209.63,714.74H205.43Z" stroke="#000" stroke-width="0.38" fill="none"/>
<path d="M246.53,718.21L248.63,721.81H244.43Z" stroke="#000" stroke-width="0.38" fill="none"/>
<path d="M285.52,731.1L287.62,734.7H283.42Z" stroke="#000" stroke-width="0.38" fill="none"/>
<path d="M324.52,731.53L326.62,735.13H322.42Z" stroke="#000" stroke-width="0.38" fill="none"/>
<path d="M363.51,735.38L365.62,738.98H361.41Z" stroke="#000" stroke-width="0.38" fill="none"/>
<path d="M402.51,734.31L404.61,737.91H400.41Z" stroke="#000" stroke-width="0.38" fill="none"/>
<path d="M441.5,720.99L443.61,724.59H439.4Z" stroke="#000" stroke-width="0.38" fill="none"/>
<path d="M480.5,482.57L482.6,486.17H478.4Z" stroke="#000" stroke-width="0.38" fill="none"/>
<path d="M442.2,571.81L444.3,575.41H440.1Z" stroke="#000" stroke-width="0.38" fill="none"/>
<text transform="translate(81.35,761.5) scale(0.945,1)" text-anchor="end" font-size="15.8">0</text>
<text transform="translate(81.35,718.67) scale(0.945,1)" text-anchor="end" font-size="15.8">10000</text>
<text transform="translate(81.35,675.84) scale(0.945,1)" text-anchor="end" font-size="15.8">20000</text>
<text transform="translate(81.35,633.01) scale(0.945,1)" text-anchor="end" font-size="15.8">30000</text>
<text transform="translate(81.35,590.19) scale(0.945,1)" text-anchor="end" font-size="15.8">40000</text>
<text transform="translate(81.35,547.36) scale(0.945,1)" text-anchor="end" font-size="15.8">50000</text>
<text transform="translate(81.35,504.53) scale(0.945,1)" text-anchor="end" font-size="15.8">60000</text>
<text transform="translate(81.35,461.7) scale(0.945,1)" text-anchor="end" font-size="15.8">70000</text>
<text transform="translate(92.55,776.5) scale(0.945,1)" text-anchor="middle" font-size="15.8">0</text>
<text transform="translate(131.55,776.5) scale(0.945,1)" text-anchor="middle" font-size="15.8">0.1</text>
<text transform="translate(170.54,776.5) scale(0.945,1)" text-anchor="middle" font-size="15.8">0.2</text>
<text transform="translate(209.53,776.5) scale(0.945,1)" text-anchor="middle" font-size="15.8">0.3</text>
<text transform="translate(248.53,776.5) scale(0.945,1)" text-anchor="middle" font-size="15.8">0.4</text>
<text transform="translate(287.52,776.5) scale(0.945,1)" text-anchor="middle" font-size="15.8">0.5</text>
<text transform="translate(326.52,776.5) scale(0.945,1)" text-anchor="middle" font-size="15.8">0.6</text>
<text transform="translate(365.51,776.5) scale(0.945,1)" text-anchor="middle" font-size="15.8">0.7</text>
<text transform="translate(404.51,776.5) scale(0.945,1)" text-anchor="middle" font-size="15.8">0.8</text>
<text transform="translate(443.5,776.5) scale(0.945,1)" text-anchor="middle" font-size="15.8">0.9</text>
<text transform="translate(483.3,776.5) scale(0.945,1)" text-anchor="middle" font-size="15.8">1</text>
<text transform="translate(285.02,800.1) scale(0.945,1)" text-anchor="middle" font-size="15.8">p2</text>
<text transform="translate(15.2,606.6) rotate(-90) scale(1.05,1)" text-anchor="middle" font-size="14.5">average execution time (msec.)</text>
<text transform="translate(413,473.3) scale(0.99,1)" text-anchor="end" font-size="15.2">p1=0.1</text>
<text transform="translate(413,488.43) scale(0.99,1)" text-anchor="end" font-size="15.2">p1=0.2</text>
<text transform="translate(413,503.56) scale(0.99,1)" text-anchor="end" font-size="15.2">p1=0.3</text>
<text transform="translate(413,518.69) scale(0.99,1)" text-anchor="end" font-size="15.2">p1=0.4</text>
<text transform="translate(413,533.82) scale(0.99,1)" text-anchor="end" font-size="15.2">p1=0.5</text>
<text transform="translate(413,548.95) scale(0.99,1)" text-anchor="end" font-size="15.2">p1=0.6</text>
<text transform="translate(413,564.08) scale(0.99,1)" text-anchor="end" font-size="15.2">p1=0.7</text>
<text transform="translate(413,579.21) scale(0.99,1)" text-anchor="end" font-size="15.2">p1=0.8</text>
<text x="241.9" y="848.2" text-anchor="middle" font-family="'Liberation Serif', serif" font-size="29.5" fill="#000">(<tspan font-weight="bold">c</tspan>)</text>
<clipPath id="c4"><rect x="603.55" y="456" width="408.55" height="300.8"/></clipPath>
<path d="M603.55,456.5H1011.6V756.3H603.55ZM644.36,756.3v-4M644.36,456.5v4M685.16,756.3v-4M685.16,456.5v4M725.96,756.3v-4M725.96,456.5v4M766.77,756.3v-4M766.77,456.5v4M807.58,756.3v-4M807.58,456.5v4M848.38,756.3v-4M848.38,456.5v4M889.18,756.3v-4M889.18,456.5v4M929.99,756.3v-4M929.99,456.5v4M970.8,756.3v-4M970.8,456.5v4M603.55,696.34h4M1011.6,696.34h-4M603.55,636.38h4M1011.6,636.38h-4M603.55,576.42h4M1011.6,576.42h-4M603.55,516.46h4M1011.6,516.46h-4" stroke="#222" stroke-width="1.15" fill="none"/>
<g clip-path="url(#c4)" fill="none">
<polyline points="603.55,456.5 644.36,456.5 685.16,456.5 725.96,456.5 766.77,456.5 807.58,456.5 848.38,456.5 889.18,456.5 929.99,456.5 970.8,456.5 1011.6,456.5" stroke="#000" stroke-width="0.38"/>
<polyline points="603.55,456.5 644.36,456.5 685.16,456.5 725.96,456.5 766.77,456.5 807.58,456.5 848.38,456.5 889.18,456.5 929.99,456.5 970.8,456.5 1011.6,456.5" stroke="#000" stroke-width="0.36" stroke-dasharray="3,1"/>
<polyline points="603.55,456.5 644.36,456.5 685.16,456.5 725.96,456.5 766.77,456.5 807.58,456.5 848.38,456.5 889.18,456.5 929.99,456.5 970.8,456.5 1011.6,456.5" stroke="#000" stroke-width="0.36" stroke-dasharray="1.5,1.7"/>
<polyline points="603.55,456.5 644.36,456.5 685.16,456.5 725.96,456.5 766.77,456.5 807.58,456.5 848.38,456.5 889.18,456.5 929.99,456.5 970.8,456.5 1011.6,456.5" stroke="#000" stroke-width="0.36" stroke-dasharray="0.6,0.6"/>
<polyline points="603.55,459.5 644.36,456.5 685.16,456.5 725.96,456.5 766.77,456.5 807.58,456.5 848.38,456.5 889.18,456.5 929.99,456.5 970.8,456.5 1011.6,456.5" stroke="#000" stroke-width="0.38" stroke-dasharray="4,1.2,0.6,1.2"/>
<polyline points="603.55,462.5 644.36,465.49 685.16,459.5 725.96,459.5 766.77,456.5 807.58,456.5 848.38,456.5 889.18,456.5 929.99,456.5 970.8,456.5 1011.6,456.5" stroke="#000" stroke-width="0.36" stroke-dasharray="2.2,1.4,0.7,1.8"/>
<polyline points="603.55,519.46 644.36,477.49 685.16,459.5 725.96,459.5 766.77,456.5 807.58,456.5 848.38,456.5 889.18,456.5 929.99,456.5 970.8,456.5 1011.6,588.41" stroke="#000" stroke-width="0.36" stroke-dasharray="1.5,0.7,1.5,3.7"/>
<polyline points="603.55,663.36 644.36,570.42 685.16,522.46 725.96,492.48 766.77,480.48 807.58,465.49 848.38,462.5 889.18,459.5 929.99,456.5 970.8,456.5 1011.6,741.31" stroke="#000" stroke-width="0.36" stroke-dasharray="4,1.3,0.7,1,0.7,1.3"/>
</g>
<path d="M953.1,468.1H994" stroke="#000" stroke-width="0.38" fill="none"/>
<path d="M953.1,483.23H994" stroke="#000" stroke-width="0.36" stroke-dasharray="3,1" fill="none"/>
<path d="M953.1,498.36H994" stroke="#000" stroke-width="0.36" stroke-dasharray="1.5,1.7" fill="none"/>
<path d="M953.1,513.49H994" stroke="#000" stroke-width="0.36" stroke-dasharray="0.6,0.6" fill="none"/>
<path d="M953.1,528.62H994" stroke="#000" stroke-width="0.38" stroke-dasharray="4,1.2,0.6,1.2" fill="none"/>
<path d="M953.1,543.75H994" stroke="#000" stroke-width="0.36" stroke-dasharray="2.2,1.4,0.7,1.8" fill="none"/>
<path d="M953.1,558.88H994" stroke="#000" stroke-width="0.36" stroke-dasharray="1.5,0.7,1.5,3.7" fill="none"/>
<path d="M953.1,574.01H994" stroke="#000" stroke-width="0.36" stroke-dasharray="4,1.3,0.7,1,0.7,1.3" fill="none"/>
<path d="M601.85,456.5H605.25M603.55,454.6V458.4" stroke="#000" stroke-width="0.35" fill="none"/>
<path d="M642.65,456.5H646.06M644.36,454.6V458.4" stroke="#000" stroke-width="0.35" fill="none"/>
<path d="M683.46,456.5H686.86M685.16,454.6V458.4" stroke="#000" stroke-width="0.35" fill="none"/>
<path d="M724.26,456.5H727.66M725.96,454.6V458.4" stroke="#000" stroke-width="0.35" fill="none"/>
<path d="M765.07,456.5H768.47M766.77,454.6V458.4" stroke="#000" stroke-width="0.35" fill="none"/>
<path d="M805.88,456.5H809.28M807.58,454.6V458.4" stroke="#000" stroke-width="0.35" fill="none"/>
<path d="M846.68,456.5H850.08M848.38,454.6V458.4" stroke="#000" stroke-width="0.35" fill="none"/>
<path d="M887.48,456.5H890.88M889.18,454.6V458.4" stroke="#000" stroke-width="0.35" fill="none"/>
<path d="M928.29,456.5H931.69M929.99,454.6V458.4" stroke="#000" stroke-width="0.35" fill="none"/>
<path d="M969.1,456.5H972.5M970.8,454.6V458.4" stroke="#000" stroke-width="0.35" fill="none"/>
<path d="M1009.9,456.5H1013.3M1011.6,454.6V458.4" stroke="#000" stroke-width="0.35" fill="none"/>
<path d="M971.6,468.1H975M973.3,466.2V470" stroke="#000" stroke-width="0.35" fill="none"/>
<path d="M601.55,454.5L605.55,458.5M601.55,458.5L605.55,454.5" stroke="#000" stroke-width="0.35" fill="none"/>
<path d="M642.36,454.5L646.36,458.5M642.36,458.5L646.36,454.5" stroke="#000" stroke-width="0.35" fill="none"/>
<path d="M683.16,454.5L687.16,458.5M683.16,458.5L687.16,454.5" stroke="#000" stroke-width="0.35" fill="none"/>
<path d="M723.96,454.5L727.96,458.5M723.96,458.5L727.96,454.5" stroke="#000" stroke-width="0.35" fill="none"/>
<path d="M764.77,454.5L768.77,458.5M764.77,458.5L768.77,454.5" stroke="#000" stroke-width="0.35" fill="none"/>
<path d="M805.58,454.5L809.58,458.5M805.58,458.5L809.58,454.5" stroke="#000" stroke-width="0.35" fill="none"/>
<path d="M846.38,454.5L850.38,458.5M846.38,458.5L850.38,454.5" stroke="#000" stroke-width="0.35" fill="none"/>
<path d="M887.18,454.5L891.18,458.5M887.18,458.5L891.18,454.5" stroke="#000" stroke-width="0.35" fill="none"/>
<path d="M927.99,454.5L931.99,458.5M927.99,458.5L931.99,454.5" stroke="#000" stroke-width="0.35" fill="none"/>
<path d="M968.8,454.5L972.8,458.5M968.8,458.5L972.8,454.5" stroke="#000" stroke-width="0.35" fill="none"/>
<path d="M1009.6,454.5L1013.6,458.5M1009.6,458.5L1013.6,454.5" stroke="#000" stroke-width="0.35" fill="none"/>
<path d="M971.3,481.23L975.3,485.23M971.3,485.23L975.3,481.23" stroke="#000" stroke-width="0.35" fill="none"/>
<path d="M601.55,454.5L605.55,458.5M601.55,458.5L605.55,454.5M601.55,456.5H605.55M603.55,454.5V458.5" stroke="#000" stroke-width="0.35" fill="none"/>
<path d="M642.36,454.5L646.36,458.5M642.36,458.5L646.36,454.5M642.36,456.5H646.36M644.36,454.5V458.5" stroke="#000" stroke-width="0.35" fill="none"/>
<path d="M683.16,454.5L687.16,458.5M683.16,458.5L687.16,454.5M683.16,456.5H687.16M685.16,454.5V458.5" stroke="#000" stroke-width="0.35" fill="none"/>
<path d="M723.96,454.5L727.96,458.5M723.96,458.5L727.96,454.5M723.96,456.5H727.96M725.96,454.5V458.5" stroke="#000" stroke-width="0.35" fill="none"/>
<path d="M764.77,454.5L768.77,458.5M764.77,458.5L768.77,454.5M764.77,456.5H768.77M766.77,454.5V458.5" stroke="#000" stroke-width="0.35" fill="none"/>
<path d="M805.58,454.5L809.58,458.5M805.58,458.5L809.58,454.5M805.58,456.5H809.58M807.58,454.5V458.5" stroke="#000" stroke-width="0.35" fill="none"/>
<path d="M846.38,454.5L850.38,458.5M846.38,458.5L850.38,454.5M846.38,456.5H850.38M848.38,454.5V458.5" stroke="#000" stroke-width="0.35" fill="none"/>
<path d="M887.18,454.5L891.18,458.5M887.18,458.5L891.18,454.5M887.18,456.5H891.18M889.18,454.5V458.5" stroke="#000" stroke-width="0.35" fill="none"/>
<path d="M927.99,454.5L931.99,458.5M927.99,458.5L931.99,454.5M927.99,456.5H931.99M929.99,454.5V458.5" stroke="#000" stroke-width="0.35" fill="none"/>
<path d="M968.8,454.5L972.8,458.5M968.8,458.5L972.8,454.5M968.8,456.5H972.8M970.8,454.5V458.5" stroke="#000" stroke-width="0.35" fill="none"/>
<path d="M1009.6,454.5L1013.6,458.5M1009.6,458.5L1013.6,454.5M1009.6,456.5H1013.6M1011.6,454.5V458.5" stroke="#000" stroke-width="0.35" fill="none"/>
<path d="M971.3,496.36L975.3,500.36M971.3,500.36L975.3,496.36M971.3,498.36H975.3M973.3,496.36V500.36" stroke="#000" stroke-width="0.35" fill="none"/>
<rect x="601.55" y="454.5" width="4" height="4" stroke="#000" stroke-width="0.38" fill="none"/>
<rect x="642.36" y="454.5" width="4" height="4" stroke="#000" stroke-width="0.38" fill="none"/>
<rect x="683.16" y="454.5" width="4" height="4" stroke="#000" stroke-width="0.38" fill="none"/>
<rect x="723.96" y="454.5" width="4" height="4" stroke="#000" stroke-width="0.38" fill="none"/>
<rect x="764.77" y="454.5" width="4" height="4" stroke="#000" stroke-width="0.38" fill="none"/>
<rect x="805.58" y="454.5" width="4" height="4" stroke="#000" stroke-width="0.38" fill="none"/>
<rect x="846.38" y="454.5" width="4" height="4" stroke="#000" stroke-width="0.38" fill="none"/>
<rect x="887.18" y="454.5" width="4" height="4" stroke="#000" stroke-width="0.38" fill="none"/>
<rect x="927.99" y="454.5" width="4" height="4" stroke="#000" stroke-width="0.38" fill="none"/>
<rect x="968.8" y="454.5" width="4" height="4" stroke="#000" stroke-width="0.38" fill="none"/>
<rect x="1009.6" y="454.5" width="4" height="4" stroke="#000" stroke-width="0.38" fill="none"/>
<rect x="971.3" y="511.49" width="4" height="4" stroke="#000" stroke-width="0.38" fill="none"/>
<rect x="601.35" y="457.3" width="4.4" height="4.4" fill="#000"/>
<rect x="642.15" y="454.3" width="4.4" height="4.4" fill="#000"/>
<rect x="682.96" y="454.3" width="4.4" height="4.4" fill="#000"/>
<rect x="723.76" y="454.3" width="4.4" height="4.4" fill="#000"/>
<rect x="764.57" y="454.3" width="4.4" height="4.4" fill="#000"/>
<rect x="805.38" y="454.3" width="4.4" height="4.4" fill="#000"/>
<rect x="846.18" y="454.3" width="4.4" height="4.4" fill="#000"/>
<rect x="886.98" y="454.3" width="4.4" height="4.4" fill="#000"/>
<rect x="927.79" y="454.3" width="4.4" height="4.4" fill="#000"/>
<rect x="968.6" y="454.3" width="4.4" height="4.4" fill="#000"/>
<rect x="1009.4" y="454.3" width="4.4" height="4.4" fill="#000"/>
<rect x="971.1" y="526.42" width="4.4" height="4.4" fill="#000"/>
<circle cx="603.55" cy="462.5" r="2.1" stroke="#000" stroke-width="0.38" fill="none"/>
<circle cx="644.36" cy="465.49" r="2.1" stroke="#000" stroke-width="0.38" fill="none"/>
<circle cx="685.16" cy="459.5" r="2.1" stroke="#000" stroke-width="0.38" fill="none"/>
<circle cx="725.96" cy="459.5" r="2.1" stroke="#000" stroke-width="0.38" fill="none"/>
<circle cx="766.77" cy="456.5" r="2.1" stroke="#000" stroke-width="0.38" fill="none"/>
<circle cx="807.58" cy="456.5" r="2.1" stroke="#000" stroke-width="0.38" fill="none"/>
<circle cx="848.38" cy="456.5" r="2.1" stroke="#000" stroke-width="0.38" fill="none"/>
<circle cx="889.18" cy="456.5" r="2.1" stroke="#000" stroke-width="0.38" fill="none"/>
<circle cx="929.99" cy="456.5" r="2.1" stroke="#000" stroke-width="0.38" fill="none"/>
<circle cx="970.8" cy="456.5" r="2.1" stroke="#000" stroke-width="0.38" fill="none"/>
<circle cx="1011.6" cy="456.5" r="2.1" stroke="#000" stroke-width="0.38" fill="none"/>
<circle cx="973.3" cy="543.75" r="2.1" stroke="#000" stroke-width="0.38" fill="none"/>
<circle cx="603.55" cy="519.46" r="2.2" fill="#000"/>
<circle cx="644.36" cy="477.49" r="2.2" fill="#000"/>
<circle cx="685.16" cy="459.5" r="2.2" fill="#000"/>
<circle cx="725.96" cy="459.5" r="2.2" fill="#000"/>
<circle cx="766.77" cy="456.5" r="2.2" fill="#000"/>
<circle cx="807.58" cy="456.5" r="2.2" fill="#000"/>
<circle cx="848.38" cy="456.5" r="2.2" fill="#000"/>
<circle cx="889.18" cy="456.5" r="2.2" fill="#000"/>
<circle cx="929.99" cy="456.5" r="2.2" fill="#000"/>
<circle cx="970.8" cy="456.5" r="2.2" fill="#000"/>
<circle cx="1011.6" cy="588.41" r="2.2" fill="#000"/>
<circle cx="973.3" cy="558.88" r="2.2" fill="#000"/>
<path d="M603.55,661.16L605.65,664.76H601.45Z" stroke="#000" stroke-width="0.38" fill="none"/>
<path d="M644.36,568.22L646.46,571.82H642.25Z" stroke="#000" stroke-width="0.38" fill="none"/>
<path d="M685.16,520.26L687.26,523.86H683.06Z" stroke="#000" stroke-width="0.38" fill="none"/>
<path d="M725.96,490.28L728.06,493.88H723.86Z" stroke="#000" stroke-width="0.38" fill="none"/>
<path d="M766.77,478.28L768.87,481.88H764.67Z" stroke="#000" stroke-width="0.38" fill="none"/>
<path d="M807.58,463.29L809.68,466.89H805.48Z" stroke="#000" stroke-width="0.38" fill="none"/>
<path d="M848.38,460.3L850.48,463.9H846.28Z" stroke="#000" stroke-width="0.38" fill="none"/>
<path d="M889.18,457.3L891.28,460.9H887.08Z" stroke="#000" stroke-width="0.38" fill="none"/>
<path d="M929.99,454.3L932.09,457.9H927.89Z" stroke="#000" stroke-width="0.38" fill="none"/>
<path d="M970.8,454.3L972.9,457.9H968.7Z" stroke="#000" stroke-width="0.38" fill="none"/>
<path d="M1011.6,739.11L1013.7,742.71H1009.5Z" stroke="#000" stroke-width="0.38" fill="none"/>
<path d="M973.3,571.81L975.4,575.41H971.2Z" stroke="#000" stroke-width="0.38" fill="none"/>
<text transform="translate(594.35,761.5) scale(0.945,1)" text-anchor="end" font-size="15.8">0</text>
<text transform="translate(594.35,701.54) scale(0.945,1)" text-anchor="end" font-size="15.8">20</text>
<text transform="translate(594.35,641.58) scale(0.945,1)" text-anchor="end" font-size="15.8">40</text>
<text transform="translate(594.35,581.62) scale(0.945,1)" text-anchor="end" font-size="15.8">60</text>
<text transform="translate(594.35,521.66) scale(0.945,1)" text-anchor="end" font-size="15.8">80</text>
<text transform="translate(594.35,461.7) scale(0.945,1)" text-anchor="end" font-size="15.8">100</text>
<text transform="translate(605.55,776.5) scale(0.945,1)" text-anchor="middle" font-size="15.8">0</text>
<text transform="translate(646.36,776.5) scale(0.945,1)" text-anchor="middle" font-size="15.8">0.1</text>
<text transform="translate(687.16,776.5) scale(0.945,1)" text-anchor="middle" font-size="15.8">0.2</text>
<text transform="translate(727.96,776.5) scale(0.945,1)" text-anchor="middle" font-size="15.8">0.3</text>
<text transform="translate(768.77,776.5) scale(0.945,1)" text-anchor="middle" font-size="15.8">0.4</text>
<text transform="translate(809.58,776.5) scale(0.945,1)" text-anchor="middle" font-size="15.8">0.5</text>
<text transform="translate(850.38,776.5) scale(0.945,1)" text-anchor="middle" font-size="15.8">0.6</text>
<text transform="translate(891.18,776.5) scale(0.945,1)" text-anchor="middle" font-size="15.8">0.7</text>
<text transform="translate(931.99,776.5) scale(0.945,1)" text-anchor="middle" font-size="15.8">0.8</text>
<text transform="translate(972.8,776.5) scale(0.945,1)" text-anchor="middle" font-size="15.8">0.9</text>
<text transform="translate(1014.4,776.5) scale(0.945,1)" text-anchor="middle" font-size="15.8">1</text>
<text transform="translate(807.08,800.1) scale(0.945,1)" text-anchor="middle" font-size="15.8">p2</text>
<text transform="translate(545,606.9) rotate(-90) scale(1.042,1)" text-anchor="middle" font-size="14.5">percentage of stable marriages with no singles</text>
<text transform="translate(944.1,473.3) scale(0.99,1)" text-anchor="end" font-size="15.2">p1=0.1</text>
<text transform="translate(944.1,488.43) scale(0.99,1)" text-anchor="end" font-size="15.2">p1=0.2</text>
<text transform="translate(944.1,503.56) scale(0.99,1)" text-anchor="end" font-size="15.2">p1=0.3</text>
<text transform="translate(944.1,518.69) scale(0.99,1)" text-anchor="end" font-size="15.2">p1=0.4</text>
<text transform="translate(944.1,533.82) scale(0.99,1)" text-anchor="end" font-size="15.2">p1=0.5</text>
<text transform="translate(944.1,548.95) scale(0.99,1)" text-anchor="end" font-size="15.2">p1=0.6</text>
<text transform="translate(944.1,564.08) scale(0.99,1)" text-anchor="end" font-size="15.2">p1=0.7</text>
<text transform="translate(944.1,579.21) scale(0.99,1)" text-anchor="end" font-size="15.2">p1=0.8</text>
<text x="776.5" y="848.2" text-anchor="middle" font-family="'Liberation Serif', serif" font-size="29.5" fill="#000">(<tspan font-weight="bold">d</tspan>)</text>
</svg>
</body></html>
